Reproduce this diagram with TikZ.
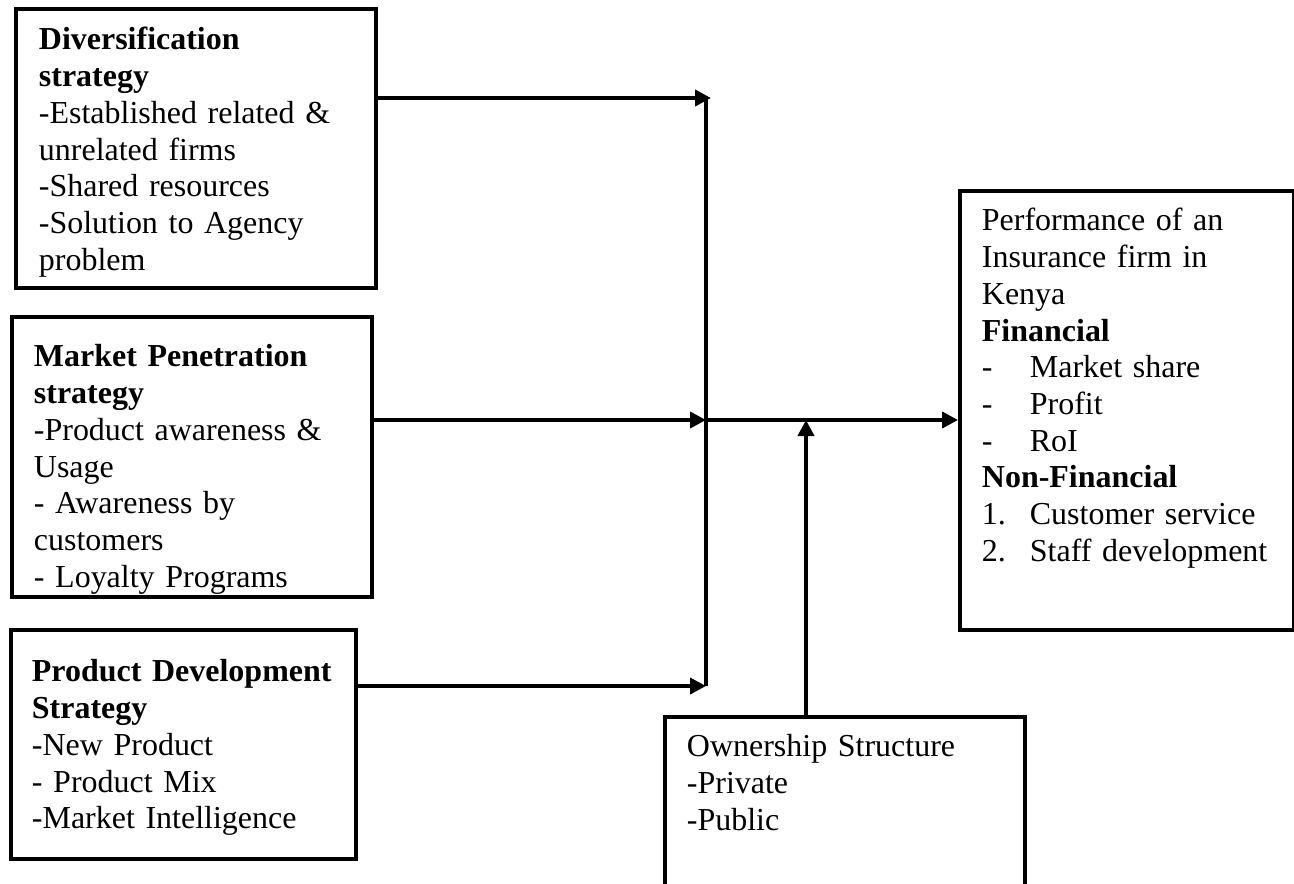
\documentclass[tikz,border=0pt]{standalone}
\usepackage{fontspec}
\setmainfont{Liberation Serif}
\usepackage{tikz}
\usetikzlibrary{calc,positioning,arrows.meta}
\newcommand{\listmark}[1]{\makebox[0.96cm][l]{#1}}
\tikzset{
	>={Triangle[length=0.32cm, width=0.32cm]},
	box/.style={
		rectangle,
		draw=black, line width=2.2pt,
		anchor=north west,
		inner ysep=0pt,
		align=left,
		font=\fontsize{18.2}{20.9}\selectfont},
	line/.style={draw, line width=2.2pt, ->},
}
\begin{document}
\begin{tikzpicture}
			[x=0.02cm, y=-0.02cm]
			\useasboundingbox (0,0) rectangle (1294,883);
			\node[box, inner xsep=0.46cm, text width=6.28cm, text height=0.82cm, text depth=4.76cm] (div) at (14,7)
				{\textbf{Diversification}\\ \textbf{strategy}\\ -Established related \&\\ unrelated firms\\ -Shared resources\\ -Solution to Agency\\ problem};
			\node[box, inner xsep=0.44cm, text width=6.32cm, text height=1.0cm, text depth=4.6cm] (mps) at (10,315)
				{\textbf{Market Penetration}\\ \textbf{strategy}\\ -Product awareness \&\\ Usage\\ - Awareness by\\ customers\\ - Loyalty Programs};
			\node[box, inner xsep=0.42cm, text width=6.06cm, text height=1.04cm, text depth=3.54cm] (pds) at (9,628)
				{\textbf{Product Development}\\ \textbf{Strategy}\\ -New Product\\ - Product Mix\\ -Market Intelligence};
			\node[box, inner xsep=0.44cm, text width=5.8cm, text height=0.8cm, text depth=7.98cm] (perf) at (958,189)
				{Performance of an\\ Insurance firm in\\ Kenya\\ \textbf{Financial}\\ \listmark{-}Market share\\ \listmark{-}Profit\\ \listmark{-}RoI\\
				\textbf{Non-Financial}\\ \listmark{1.}Customer service\\ \listmark{2.}Staff development};
			\node[box, inner xsep=0.44cm, text width=6.32cm, text height=0.8cm, text depth=3.7cm] (own) at (663,715)
				{Ownership Structure\\ -Private\\ -Public};
			% junction points
			\coordinate (jtop) at (706,98);
			\coordinate (jmid) at (706,420);
			\coordinate (jbot) at (706,686);
			\coordinate (jup) at (806,420);
			\draw[line, -] (jtop) -- (jbot);
			\draw[line] (div.east |- jtop) -- ([xshift=0.1cm]jtop);
			\draw[line] (mps.east |- jmid) -- (jmid);
			\draw[line] (pds.east |- jbot) -- (jbot);
			\draw[line] (jmid) -- (perf.west |- jmid);
			\draw[line] (jup |- own.north) -- (jup);
\end{tikzpicture}
\end{document}
